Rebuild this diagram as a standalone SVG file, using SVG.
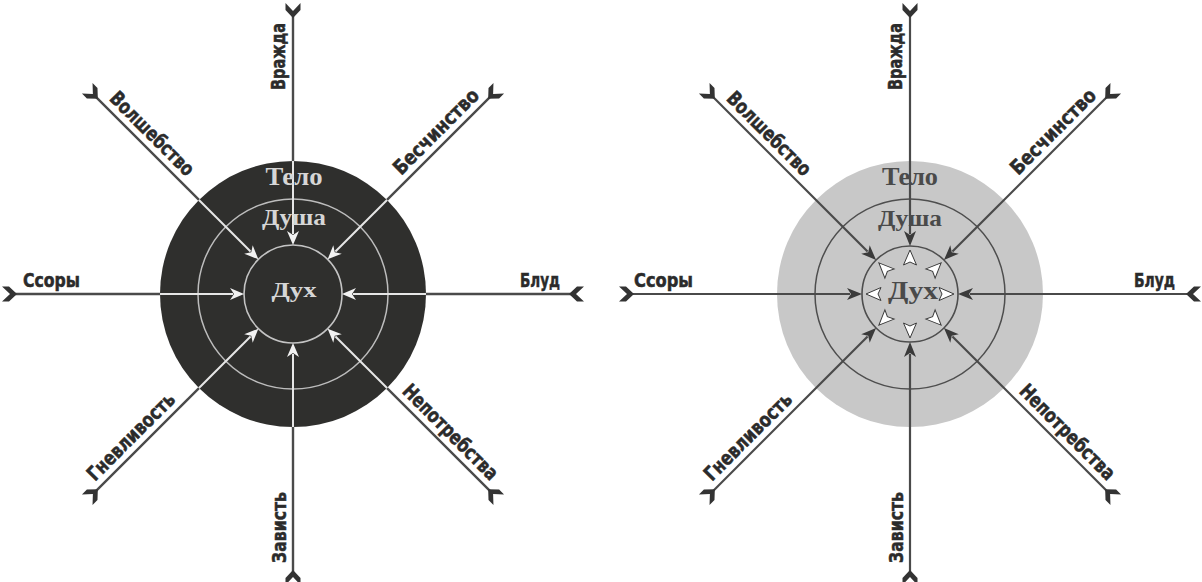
<svg xmlns="http://www.w3.org/2000/svg" xmlns:xlink="http://www.w3.org/1999/xlink" width="1202" height="582" viewBox="0 0 1202 582">
<style>
.lbl{font-family:"DejaVu Sans Condensed","Liberation Sans Narrow","Liberation Sans",sans-serif;font-weight:bold;font-size:20px;fill:#2b2b2b;stroke:#2b2b2b;stroke-width:0.5}
.ctr{font-family:"Liberation Serif","DejaVu Serif",serif;font-weight:bold;text-anchor:middle}
.ctrL{fill:#d6d6d6}
.ctrR{fill:#4a4a4a}
.fl{fill:#333333}
</style>
<defs>
  <g id="arrowL">
    <line x1="-282" y1="0" x2="-133" y2="0" stroke="#4a4a4a" stroke-width="2.4"/>
    <line x1="-133" y1="0" x2="-60" y2="0" stroke="#e6e6e6" stroke-width="2"/>
    <path d="M-49,0 L-63,-6 L-59,0 L-63,6 Z" fill="#f2f2f2"/>
    <path class="fl" d="M-291,-7.5 L-284,-7.5 L-276,0 L-284,7.5 L-291,7.5 L-283,0 Z"/>
  </g>
  <g id="arrowR">
    <line x1="-282" y1="0" x2="-60" y2="0" stroke="#4a4a4a" stroke-width="2.2"/>
    <path d="M-48,0 L-63,-6 L-59,0 L-63,6 Z" fill="#3a3a3a"/>
    <path class="fl" d="M-291,-7.5 L-284,-7.5 L-276,0 L-284,7.5 L-291,7.5 L-283,0 Z"/>
    <path d="M-44,0 L-29,-6.5 L-32,0 L-29,6.5 Z" fill="#ffffff" stroke="#3a3a3a" stroke-width="1"/>
  </g>
</defs>
<rect width="1202" height="582" fill="#ffffff"/>

<g id="target-left">
  <circle cx="293" cy="294" r="133" fill="#2f2f2d"/>
  <circle cx="293" cy="294" r="95" fill="none" stroke="#bdbdbd" stroke-width="1.5"/>
  <circle cx="293" cy="294" r="49" fill="none" stroke="#c4c4c4" stroke-width="1.6"/>
</g>
<g id="target-right">
  <circle cx="910" cy="294" r="133" fill="#c8c8c8"/>
  <circle cx="910" cy="294" r="95" fill="none" stroke="#4e4e4e" stroke-width="1.5"/>
  <circle cx="910" cy="294" r="48" fill="none" stroke="#4e4e4e" stroke-width="1.6"/>
</g>

<g id="connectors">
  <use xlink:href="#arrowL" transform="translate(293,294) rotate(0)"/>
  <use xlink:href="#arrowL" transform="translate(293,294) rotate(45)"/>
  <use xlink:href="#arrowL" transform="translate(293,294) rotate(90)"/>
  <use xlink:href="#arrowL" transform="translate(293,294) rotate(135)"/>
  <use xlink:href="#arrowL" transform="translate(293,294) rotate(180)"/>
  <use xlink:href="#arrowL" transform="translate(293,294) rotate(225)"/>
  <use xlink:href="#arrowL" transform="translate(293,294) rotate(270)"/>
  <use xlink:href="#arrowL" transform="translate(293,294) rotate(315)"/>
  <use xlink:href="#arrowR" transform="translate(910,294) rotate(0)"/>
  <use xlink:href="#arrowR" transform="translate(910,294) rotate(45)"/>
  <use xlink:href="#arrowR" transform="translate(910,294) rotate(90)"/>
  <use xlink:href="#arrowR" transform="translate(910,294) rotate(135)"/>
  <use xlink:href="#arrowR" transform="translate(910,294) rotate(180)"/>
  <use xlink:href="#arrowR" transform="translate(910,294) rotate(225)"/>
  <use xlink:href="#arrowR" transform="translate(910,294) rotate(270)"/>
  <use xlink:href="#arrowR" transform="translate(910,294) rotate(315)"/>
</g>

<g id="centre-left">
  <text class="ctr ctrL" x="294" y="185" font-size="25" textLength="57" lengthAdjust="spacingAndGlyphs">Тело</text>
  <text class="ctr ctrL" x="294" y="225" font-size="23" textLength="64" lengthAdjust="spacingAndGlyphs">Душа</text>
  <text class="ctr ctrL" x="294" y="297" font-size="21" textLength="45" lengthAdjust="spacingAndGlyphs">Дух</text>
</g>
<g id="centre-right">
  <text class="ctr ctrR" x="910" y="185" font-size="25" textLength="56" lengthAdjust="spacingAndGlyphs">Тело</text>
  <text class="ctr ctrR" x="910" y="226" font-size="23" textLength="64" lengthAdjust="spacingAndGlyphs">Душа</text>
  <text class="ctr ctrR" x="913" y="299" font-size="25" textLength="50" lengthAdjust="spacingAndGlyphs">Дух</text>
</g>

<g id="labels-left" transform="translate(293,294)">
  <text class="lbl" x="-270" y="-7" textLength="57" lengthAdjust="spacingAndGlyphs">Ссоры</text>
  <text class="lbl" x="227" y="-7" textLength="40" lengthAdjust="spacingAndGlyphs">Блуд</text>
  <text class="lbl" transform="rotate(-90)" x="204" y="-8" textLength="67" lengthAdjust="spacingAndGlyphs">Вражда</text>
  <text class="lbl" transform="rotate(-90)" x="-269" y="-7" textLength="71" lengthAdjust="spacingAndGlyphs">Зависть</text>
  <text class="lbl" transform="rotate(45)" x="-268" y="-7" textLength="110" lengthAdjust="spacingAndGlyphs">Волшебство</text>
  <text class="lbl" transform="rotate(45)" x="146" y="-7" textLength="126" lengthAdjust="spacingAndGlyphs">Непотребства</text>
  <text class="lbl" transform="rotate(-45)" x="160" y="-7" textLength="112" lengthAdjust="spacingAndGlyphs">Бесчинство</text>
  <text class="lbl" transform="rotate(-45)" x="-273" y="-7" textLength="115" lengthAdjust="spacingAndGlyphs">Гневливость</text>
</g>
<g id="labels-right" transform="translate(910,294)">
  <text class="lbl" x="-276" y="-7" textLength="59" lengthAdjust="spacingAndGlyphs">Ссоры</text>
  <text class="lbl" x="224" y="-7" textLength="41" lengthAdjust="spacingAndGlyphs">Блуд</text>
  <text class="lbl" transform="rotate(-90)" x="204" y="-8" textLength="67" lengthAdjust="spacingAndGlyphs">Вражда</text>
  <text class="lbl" transform="rotate(-90)" x="-269" y="-7" textLength="71" lengthAdjust="spacingAndGlyphs">Зависть</text>
  <text class="lbl" transform="rotate(45)" x="-268" y="-7" textLength="110" lengthAdjust="spacingAndGlyphs">Волшебство</text>
  <text class="lbl" transform="rotate(45)" x="146" y="-7" textLength="126" lengthAdjust="spacingAndGlyphs">Непотребства</text>
  <text class="lbl" transform="rotate(-45)" x="160" y="-7" textLength="112" lengthAdjust="spacingAndGlyphs">Бесчинство</text>
  <text class="lbl" transform="rotate(-45)" x="-273" y="-7" textLength="115" lengthAdjust="spacingAndGlyphs">Гневливость</text>
</g>
</svg>
